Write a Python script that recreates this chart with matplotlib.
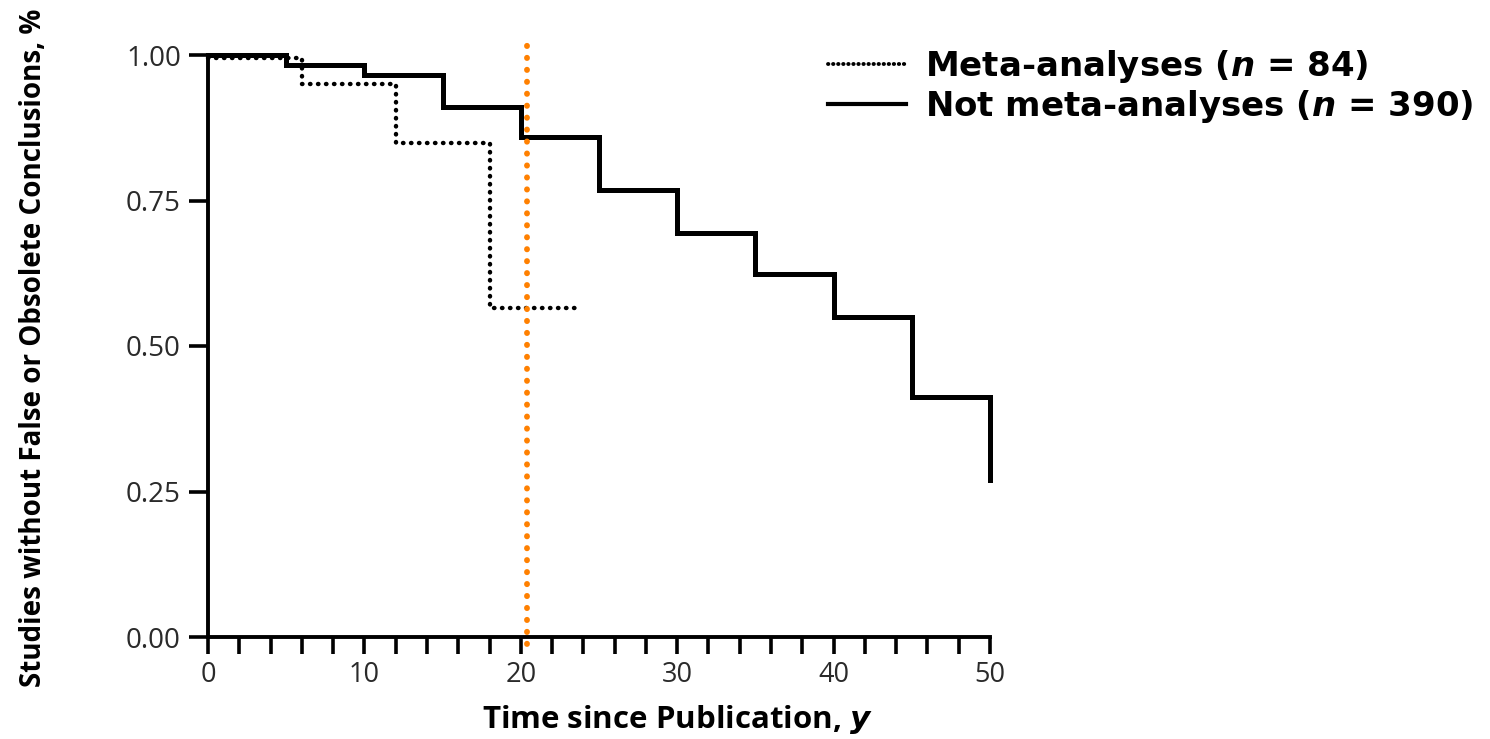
import matplotlib
matplotlib.use("Agg")
import matplotlib.pyplot as plt
from matplotlib.lines import Line2D

# Kaplan-Meier style survival data (years since publication)
not_meta_times = [0, 5, 10, 15, 20, 25, 30, 35, 40, 45, 50, 50]
not_meta_surv = [1.00, 0.983, 0.966, 0.911, 0.859, 0.768, 0.694, 0.623, 0.55, 0.413, 0.413, 0.27]

meta_times = [0, 6, 12, 18, 23.5]
meta_surv = [0.995, 0.95, 0.849, 0.565, 0.565]

marker_year = 20.4

x_ticks = list(range(0, 51, 2))
x_tick_labels = [str(t) if t % 10 == 0 else "" for t in x_ticks]
y_ticks = [0.00, 0.25, 0.50, 0.75, 1.00]
y_tick_labels = ["0.00", "0.25", "0.50", "0.75", "1.00"]

legend_labels = [r"Meta-analyses ($n$ = 84)", r"Not meta-analyses ($n$ = 390)"]

plt.rcParams.update({
    "font.family": ["Open Sans", "DejaVu Sans"],
    "mathtext.fontset": "custom",
    "mathtext.it": "DejaVu Sans:italic:bold",
    "mathtext.rm": "DejaVu Sans",
})

fig = plt.figure(figsize=(14.9, 7.39), dpi=100)
ax = fig.add_axes([208 / 1490, 1 - 637 / 739, (990 - 208) / 1490, (637 - 55) / 739])

ax.step(not_meta_times, not_meta_surv, where="post", color="black",
        linewidth=3.6, solid_joinstyle="miter", clip_on=False, zorder=3)
ax.step(meta_times, meta_surv, where="post", color="black",
        linewidth=3.2, linestyle=(0, (0.1, 1.7)), dash_capstyle="round",
        clip_on=False, zorder=4)
ax.axvline(marker_year, ymin=-0.012, ymax=1.03, color="#ff8000",
           linewidth=4.2, linestyle=(0, (0.05, 2.0)), dash_capstyle="round",
           clip_on=False, zorder=5)

ax.set_xlim(0, 50)
ax.set_ylim(0, 1)
ax.set_xticks(x_ticks)
ax.set_xticklabels(x_tick_labels)
ax.set_yticks(y_ticks)
ax.set_yticklabels(y_tick_labels)

for side in ["top", "right"]:
    ax.spines[side].set_visible(False)
for side in ["left", "bottom"]:
    ax.spines[side].set_linewidth(2.8)

ax.tick_params(axis="x", direction="out", length=12, width=2.6,
               labelsize=19.5, pad=5, colors="black", labelcolor="#2a2a2a")
ax.tick_params(axis="y", direction="out", length=13.5, width=2.6,
               labelsize=20, pad=6, colors="black", labelcolor="#2a2a2a")

ax.set_xlabel(r"Time since Publication, $y$", fontsize=22.5, fontweight="bold")
ax.xaxis.set_label_coords(0.60, -0.113)
ax.set_ylabel("Studies without False or Obsolete Conclusions, %", fontsize=20,
              fontweight="bold")
ax.yaxis.set_label_coords(-0.205, 0.497)

handles = [
    Line2D([0], [0], color="black", linewidth=2.8, linestyle=(0, (0.1, 1.2)),
           dash_capstyle="round"),
    Line2D([0], [0], color="black", linewidth=3.0),
]
fig.legend(handles, legend_labels, loc="upper left",
           bbox_to_anchor=(828 / 1490, 1 - 48 / 739), frameon=False,
           handlelength=2.3, handletextpad=0.55, labelspacing=0.08,
           borderpad=0.0, borderaxespad=0.0,
           prop={"family": "DejaVu Sans", "size": 24.5, "weight": "bold"})

fig.savefig("out.png", dpi=100)
